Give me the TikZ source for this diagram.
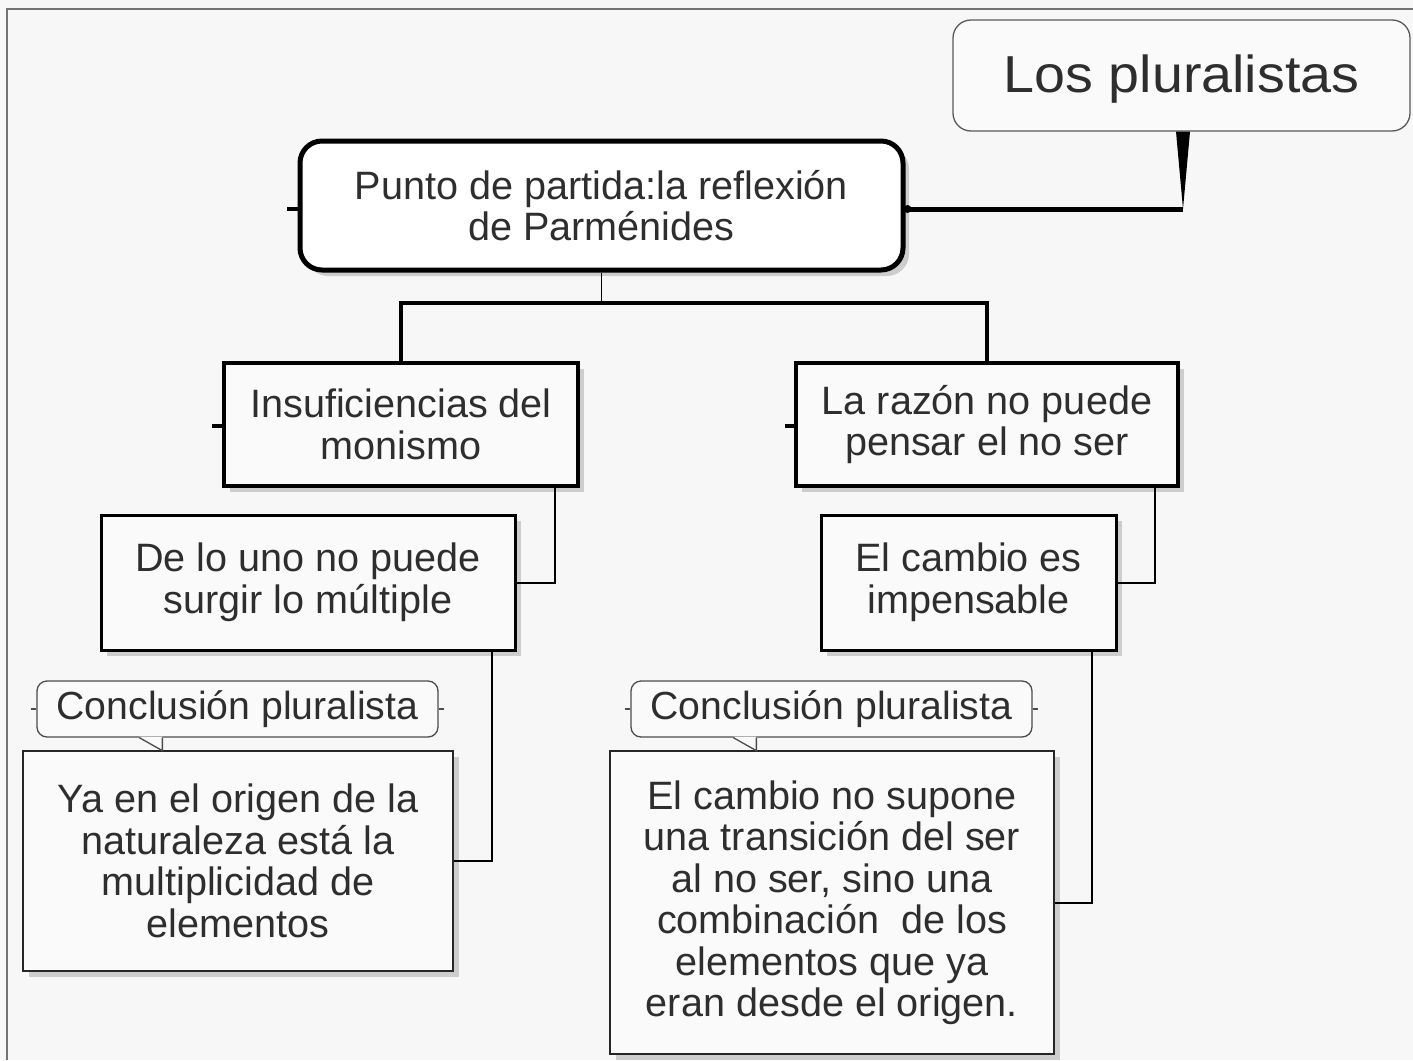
\documentclass[tikz,border=0pt]{standalone}
\usepackage{fontspec}
\setmainfont{Liberation Sans}
\newfontfamily\titlefont[FakeStretch=1.07]{Liberation Sans}
\usetikzlibrary{calc,shadows}
\definecolor{bg}{HTML}{F7F7F7}
\definecolor{txt}{HTML}{2E2E2E}
\definecolor{boxfill}{HTML}{FAFAFA}
\begin{document}
\begin{tikzpicture}[x=1pt,y=-1pt,
  every node/.style={text=txt, align=center, inner sep=0pt},
  bigfont/.style={font=\fontsize{39.6}{41.5}\selectfont},
  shadowed/.style={drop shadow={shadow xshift=6pt, shadow yshift=-6pt, fill=black!30, opacity=0.6}},
  mainbox/.style={draw=black, line width=5pt, rounded corners=22pt, fill=white, bigfont, shadowed},
  topicbox/.style={draw=black, line width=3.5pt, fill=boxfill, bigfont, shadowed},
  subbox/.style={draw=black, line width=3pt, fill=boxfill, bigfont, shadowed},
  leafbox/.style={draw=black!85, line width=2pt, fill=boxfill, bigfont, shadowed},
  titlebox/.style={draw=black!65, line width=1.3pt, rounded corners=18pt, fill=boxfill, font=\titlefont\fontsize{52}{60}\selectfont},
  calloutbox/.style={draw=black!70, line width=1.3pt, rounded corners=10pt, fill=boxfill, font=\fontsize{39.2}{41.5}\selectfont},
  thickconn/.style={draw=black, line width=5pt},
  midconn/.style={draw=black, line width=4pt},
  thinconn/.style={draw=black, line width=2pt},
  stub/.style={draw=black, line width=4pt}
]
\useasboundingbox (0,0) rectangle (1413,1060);
\fill[bg] (0,0) rectangle (1413,1060);
\draw[black!55, line width=1.5pt] (7,1060) -- (7,9) -- (1413,9);

% nodes
\node[titlebox, minimum width=457pt, minimum height=111pt] (top) at (1181.5,75.5) {\raisebox{-17pt}[0pt][0pt]{Los pluralistas}};
\node[mainbox, minimum width=603pt, minimum height=129pt] (punto) at (601.5,205.5) {Punto de partida:la reflexión\\de Parménides};
\node[topicbox, minimum width=354pt, minimum height=123pt] (insuf) at (401,424.5) {Insuficiencias del\\monismo};
\node[topicbox, minimum width=382pt, minimum height=123pt] (razon) at (987,424.5) {La razón no puede\\pensar el no ser};
\node[subbox, minimum width=414pt, minimum height=135pt] (deuno) at (308,582.5) {De lo uno no puede\\surgir lo múltiple};
\node[subbox, minimum width=295pt, minimum height=135pt] (cambio) at (968.5,582.5) {El cambio es\\impensable};
\node[leafbox, minimum width=430pt, minimum height=220pt] (ya) at (238,861) {Ya en el origen de la\\naturaleza está la\\multiplicidad de\\elementos};
\node[leafbox, minimum width=444pt, minimum height=303pt] (elcambio) at (832,902.5) {El cambio no supone\\una transición del ser\\al no ser, sino una\\combinación\ \ de los\\elementos que ya\\eran desde el origen.};
\node[calloutbox, minimum width=401pt, minimum height=56pt] (concla) at (237.5,709) {Conclusión pluralista};
\node[calloutbox, minimum width=401pt, minimum height=56pt] (conclb) at (831.5,709) {Conclusión pluralista};

% callout tails
\foreach \c in {concla,conclb}{
  \fill[boxfill] ($(\c.south west)+(103,-1)$) -- ($(\c.south west)+(126,13)$) -- ($(\c.south west)+(126,-1)$) -- cycle;
  \draw[black!70, line width=1.3pt] ($(\c.south west)+(103,0)$) -- ($(\c.south west)+(126,13)$) -- ($(\c.south west)+(126,0)$);
  \draw[black!70, line width=1.3pt] (\c.west) -- ++(-5,0);
  \draw[black!70, line width=1.3pt] (\c.east) -- ++(5,0);
}

% connectors
\coordinate (topfoot) at ($(top.south)+(1.5,0)$);
\coordinate (topcorner) at (topfoot |- 0,209);
\fill[black] ($(topfoot)+(-7,0)$) -- ($(topfoot)+(7,0)$) -- (topcorner) -- cycle;
\draw[thickconn] (topcorner) -- (punto.east |- topcorner);
\fill[black] ($(punto.east |- topcorner)+(2,0)$) circle (4pt);

\coordinate (bus) at ($(punto.south)+(0,30)$);
\draw[black, line width=1.5pt] (punto.south) -- (bus);
\draw[midconn] (insuf.north) -- (insuf.north |- bus) -- (razon.north |- bus) -- (razon.north);

\draw[thinconn] ($(insuf.south east)+(-25,0)$) |- (deuno.east);
\draw[thinconn] ($(razon.south east)+(-25,0)$) |- (cambio.east);
\draw[thinconn] ($(deuno.south east)+(-25,0)$) |- (ya.east);
\draw[thinconn] ($(cambio.south east)+(-26,0)$) |- (elcambio.east);

% small stubs
\draw[stub] ($(punto.west)+(0,3.5)$) -- ++(-11,0);
\draw[stub] ($(insuf.west)+(0,1.5)$) -- ++(-10,0);
\draw[stub] ($(razon.west)+(0,1.5)$) -- ++(-9,0);
\end{tikzpicture}
\end{document}
